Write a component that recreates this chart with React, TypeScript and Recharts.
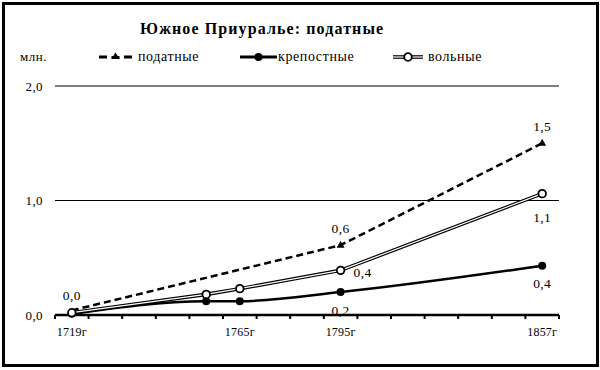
import React from 'react';
import { LineChart, Line, XAxis, YAxis, CartesianGrid, LabelList } from 'recharts';

const categories = ['1719г', '', '', '', '', '1765г', '', '', '1795г', '', '', '', '', '', '1857г'];
const podatnye = [0.04, null, null, null, null, null, null, null, 0.61, null, null, null, null, null, 1.5];
const krepostnye = [0.01, null, null, null, 0.12, 0.12, null, null, 0.2, null, null, null, null, null, 0.43];
const volnye = [0.02, null, null, null, 0.18, 0.23, null, null, 0.39, null, null, null, null, null, 1.06];
const yTicks = [0, 1, 2];
const seriesNames = ['податные', 'крепостные', 'вольные'];
const title = 'Южное Приуралье: податные';
const unit = 'млн.';

const FONT = '"Liberation Serif", "Times New Roman", serif';

const data = categories.map((label, i) => ({
  idx: i,
  label,
  podatnye: podatnye[i],
  krepostnye: krepostnye[i],
  volnye: volnye[i],
}));

const boundaryTicks = categories.map((_, i) => i - 0.5).concat([categories.length - 0.5]);
const labelTicks = categories.map((l, i) => (l ? i : null)).filter((v) => v !== null) as number[];
const xTicks = [...boundaryTicks, ...labelTicks].sort((a, b) => a - b);

const fmt = (v: number) => v.toFixed(1).replace('.', ',');

// label placement: index -> [dx, dy, anchor]
const labelPos: Record<string, Record<number, [number, number, string]>> = {
  podatnye: { 0: [0, -10, 'middle'], 8: [0, -12.5, 'middle'], 14: [0, -12.5, 'middle'] },
  krepostnye: { 8: [0, 22.5, 'middle'], 14: [0, 22.5, 'middle'] },
  volnye: { 8: [13, 6.5, 'start'], 14: [0, 28.5, 'middle'] },
};

const makeLabel = (key: string) => (props: any) => {
  const { x, y, value, index } = props;
  const pos = labelPos[key][index];
  if (!pos || value == null) return <g />;
  return (
    <text
      x={x + pos[0]}
      y={y + pos[1]}
      textAnchor={pos[2] as any}
      style={{ fontSize: 13.5, fontFamily: FONT, fill: '#000', letterSpacing: 0.4 }}
    >
      {fmt(value)}
    </text>
  );
};

const XTick = (props: any) => {
  const { x, y, payload } = props;
  const v = payload.value;
  if (Number.isInteger(v)) {
    return (
      <text x={x} y={y + 21} textAnchor="middle" style={{ fontSize: 12, fontFamily: FONT, fill: '#000', letterSpacing: 0.2 }}>
        {categories[v]}
      </text>
    );
  }
  return <line x1={x} x2={x} y1={y} y2={y + 4} stroke="#000" strokeWidth={2} />;
};

const YTick = (props: any) => {
  const { x, y, payload } = props;
  return (
    <text x={x} y={y + 4.5} textAnchor="end" style={{ fontSize: 13, fontFamily: FONT, fill: '#000', letterSpacing: 0.4 }}>
      {fmt(payload.value)}
    </text>
  );
};

const TriangleDot = (props: any) => {
  const { cx, cy, index } = props;
  if (cx == null || cy == null || index === 0) return <g key={`t${index}`} />;
  return <polygon key={`t${index}`} points={`${cx},${cy - 4.5} ${cx + 4},${cy + 2.5} ${cx - 4},${cy + 2.5}`} fill="#000" />;
};

const FilledDot = (props: any) => {
  const { cx, cy, index } = props;
  if (cx == null || cy == null) return <g key={`f${index}`} />;
  return <circle key={`f${index}`} cx={cx} cy={cy} r={4} fill="#000" />;
};

const OpenDot = (props: any) => {
  const { cx, cy, index } = props;
  if (cx == null || cy == null) return <g key={`o${index}`} />;
  return <circle key={`o${index}`} cx={cx} cy={cy} r={3.8} fill="#fff" stroke="#000" strokeWidth={1.8} />;
};

const LegendIcon = ({ kind, w }: { kind: number; w: number }) => (
  <svg width={w} height={12} style={{ display: 'block' }}>
    {kind === 0 && (
      <>
        <line x1={1} y1={6} x2={9} y2={6} stroke="#000" strokeWidth={3} />
        <line x1={w - 9} y1={6} x2={w - 1} y2={6} stroke="#000" strokeWidth={3} />
        <polygon points={`${w / 2},1.5 ${w / 2 + 4},8 ${w / 2 - 4},8`} fill="#000" />
        <line x1={w / 2 - 4} y1={6.5} x2={w / 2 + 4} y2={6.5} stroke="#000" strokeWidth={3} />
      </>
    )}
    {kind === 1 && (
      <>
        <line x1={0} y1={6} x2={w} y2={6} stroke="#000" strokeWidth={3} />
        <circle cx={w / 2} cy={6} r={4} fill="#000" />
      </>
    )}
    {kind === 2 && (
      <>
        <line x1={0} y1={6} x2={w} y2={6} stroke="#000" strokeWidth={3.6} />
        <line x1={0} y1={6} x2={w} y2={6} stroke="#fff" strokeWidth={1.2} />
        <circle cx={w / 2} cy={6} r={3.8} fill="#fff" stroke="#000" strokeWidth={1.8} />
      </>
    )}
  </svg>
);

const legendIconX = [98, 240, 393];
const legendIconW = [35, 37, 30];
const legendTextX = [138, 278, 428];

export default function App() {
  return (
    <div style={{ position: 'absolute', left: 0, top: 0, width: 600, height: 370, background: '#fff', fontFamily: FONT }}>
      <div
        style={{
          position: 'absolute',
          left: 2,
          top: 2,
          width: 597,
          height: 365,
          border: '3px solid #000',
          boxSizing: 'border-box',
        }}
      />
      <div
        style={{
          position: 'absolute',
          left: 140,
          top: 20,
          fontSize: 16,
          fontWeight: 'bold',
          lineHeight: '18px',
          letterSpacing: 1.1,
          whiteSpace: 'nowrap',
        }}
      >
        {title}
      </div>
      <div style={{ position: 'absolute', left: 20, top: 49, fontSize: 13, lineHeight: '16px', letterSpacing: 0.5 }}>{unit}</div>
      {seriesNames.map((name, i) => (
        <React.Fragment key={name}>
          <div style={{ position: 'absolute', left: legendIconX[i], top: 51 }}>
            <LegendIcon kind={i} w={legendIconW[i]} />
          </div>
          <div
            style={{
              position: 'absolute',
              left: legendTextX[i],
              top: 48,
              fontSize: 14,
              lineHeight: '17px',
              letterSpacing: 0.6,
              whiteSpace: 'nowrap',
            }}
          >
            {name}
          </div>
        </React.Fragment>
      ))}
      <div style={{ position: 'absolute', left: 0, top: 0 }}>
        <LineChart width={600} height={370} data={data} margin={{ top: 86, right: 41, bottom: 25, left: 0 }}>
          <CartesianGrid vertical={false} stroke="#000" strokeWidth={1} />
          <XAxis
            dataKey="idx"
            type="number"
            domain={[-0.5, 14.5]}
            ticks={xTicks}
            interval={0}
            tick={<XTick />}
            tickLine={false}
            tickSize={0}
            tickMargin={0}
            axisLine={{ stroke: '#000', strokeWidth: 2.5 }}
            height={30}
            allowDecimals
          />
          <YAxis
            type="number"
            domain={[0, 2]}
            ticks={yTicks}
            axisLine={false}
            tickLine={false}
            tickSize={0}
            tickMargin={12}
            width={55}
            tick={<YTick />}
          />
          <Line
            dataKey="podatnye"
            type="linear"
            connectNulls
            stroke="#000"
            strokeWidth={2.5}
            strokeDasharray="7 4"
            dot={TriangleDot}
            activeDot={false}
            isAnimationActive={false}
          >
            <LabelList dataKey="podatnye" content={makeLabel('podatnye')} />
          </Line>
          <Line
            dataKey="krepostnye"
            type="monotone"
            connectNulls
            stroke="#000"
            strokeWidth={2.5}
            dot={FilledDot}
            activeDot={false}
            isAnimationActive={false}
          >
            <LabelList dataKey="krepostnye" content={makeLabel('krepostnye')} />
          </Line>
          <Line
            dataKey="volnye"
            type="linear"
            connectNulls
            stroke="#000"
            strokeWidth={3.6}
            dot={false}
            activeDot={false}
            isAnimationActive={false}
          />
          <Line
            dataKey="volnye"
            type="linear"
            connectNulls
            stroke="#fff"
            strokeWidth={1.2}
            dot={OpenDot}
            activeDot={false}
            isAnimationActive={false}
          >
            <LabelList dataKey="volnye" content={makeLabel('volnye')} />
          </Line>
        </LineChart>
      </div>
    </div>
  );
}
